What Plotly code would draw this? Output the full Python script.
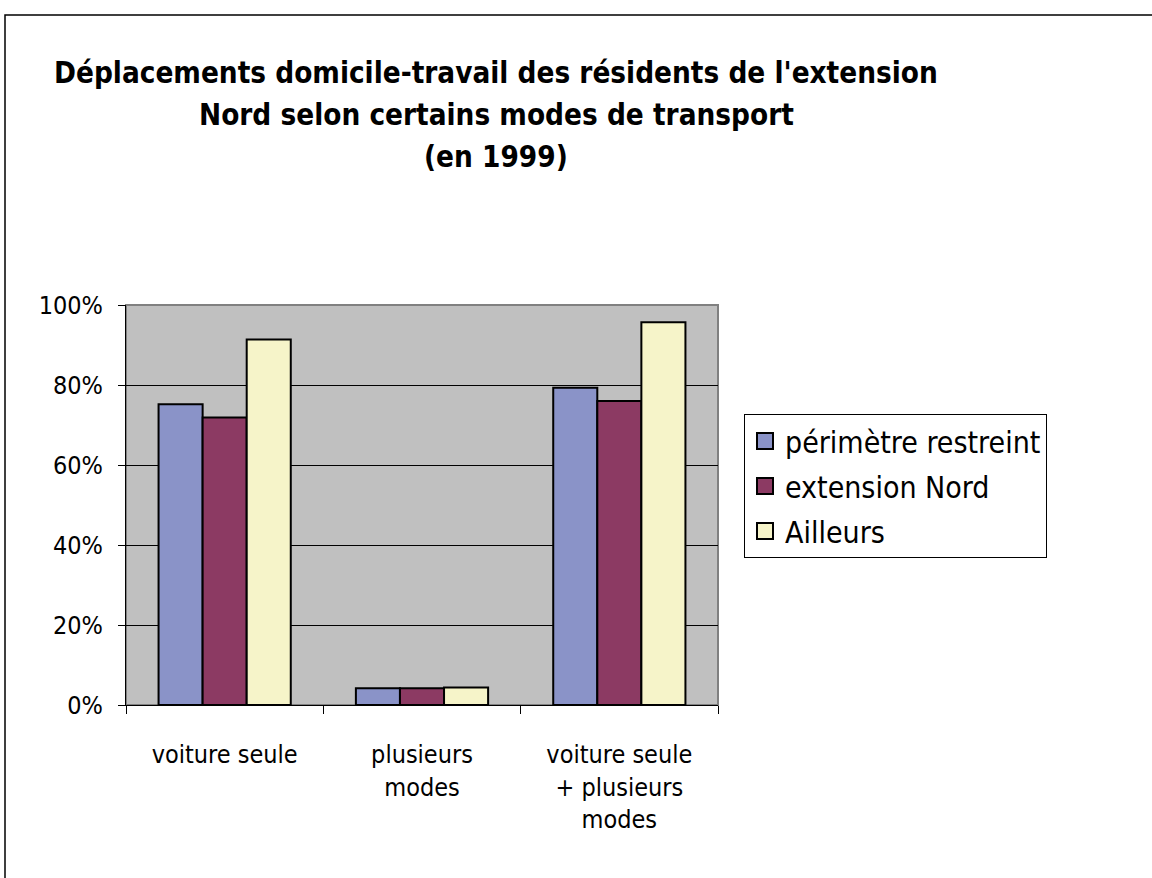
import plotly.graph_objects as go

categories = ["voiture seule", "plusieurs<br>modes", "voiture seule<br>+ plusieurs<br>modes"]
series_names = ["périmètre restreint", "extension Nord", "Ailleurs"]
perimetre_restreint = [0.752, 0.042, 0.793]
extension_nord = [0.719, 0.042, 0.760]
ailleurs = [0.914, 0.044, 0.957]
series_colors = ["#8A93C8", "#8C3A63", "#F6F4C9"]
tick_vals = [0, 0.2, 0.4, 0.6, 0.8, 1.0]
tick_text = ["0%", "20%", "40%", "60%", "80%", "100%"]
title_lines = ["Déplacements domicile-travail des résidents de l'extension",
               "Nord selon certains modes de transport",
               "(en 1999)"]

W, H = 1152, 878
L, R, T, B = 126, 718, 305, 705

fig = go.Figure()
for name, vals, col in zip(series_names, [perimetre_restreint, extension_nord, ailleurs], series_colors):
    fig.add_trace(go.Bar(
        x=categories, y=vals, name=name, showlegend=False,
        marker=dict(color=col, line=dict(color="black", width=2)),
    ))
# legend entries (large square swatches like the original)
for name, col in zip(series_names, series_colors):
    fig.add_trace(go.Scatter(
        x=[None], y=[None], mode="markers", name=name, legendgroup=name,
        marker=dict(symbol="square", size=18, color=col, line=dict(color="black", width=2)),
    ))

def px2x(p):
    return (p - L) / (R - L)

def px2y(p):
    return (B - p) / (B - T)

font_family = "DejaVu Sans Condensed, DejaVu Sans, sans-serif"

annotations = []
for i, line in enumerate(title_lines):
    annotations.append(dict(
        text="<b>" + line + "</b>", xref="paper", yref="paper",
        x=px2x(496), xanchor="center", y=px2y(73 + 42 * i), yanchor="middle",
        showarrow=False, font=dict(size=29.4, family=font_family, color="black"),
    ))

fig.update_layout(
    width=W, height=H,
    margin=dict(l=L, r=W - R, t=T, b=H - B, pad=0),
    paper_bgcolor="white",
    plot_bgcolor="#C0C0C0",
    barmode="group",
    bargap=0.33,
    bargroupgap=0,
    font=dict(family=font_family, color="black"),
    annotations=annotations,
    legend=dict(
        x=px2x(744), xanchor="left", y=px2y(414), yanchor="top",
        bgcolor="white", bordercolor="black", borderwidth=1,
        font=dict(size=30, family=font_family, color="black"),
        traceorder="grouped", tracegroupgap=3, itemsizing="trace",
        itemwidth=30,
    ),
    xaxis=dict(
        showline=True, linecolor="black", linewidth=1,
        ticks="outside", ticklen=8, tickcolor="black", tickson="boundaries",
        tickfont=dict(size=25, family=font_family, color="black"),
        ticklabelstandoff=27,
        showgrid=False,
    ),
    yaxis=dict(
        range=[0, 1], tickvals=tick_vals, ticktext=tick_text,
        showline=True, linecolor="black", linewidth=1,
        ticks="outside", ticklen=7, tickcolor="black",
        tickfont=dict(size=25, family=font_family, color="black"),
        ticklabelstandoff=10,
        showgrid=True, gridcolor="black", gridwidth=1,
        zeroline=False,
    ),
    shapes=[
        dict(type="rect", xref="paper", yref="paper", x0=0, x1=1, y0=0, y1=1,
             line=dict(color="#808080", width=2), layer="below"),
        dict(type="rect", xref="paper", yref="paper",
             x0=px2x(5), x1=px2x(1175), y0=px2y(900), y1=px2y(15),
             line=dict(color="black", width=1.5), fillcolor="rgba(0,0,0,0)"),
    ],
)

fig.write_html("out.html", config={"displayModeBar": False},
               post_script="document.body.style.margin='0';document.body.style.overflow='hidden';")
